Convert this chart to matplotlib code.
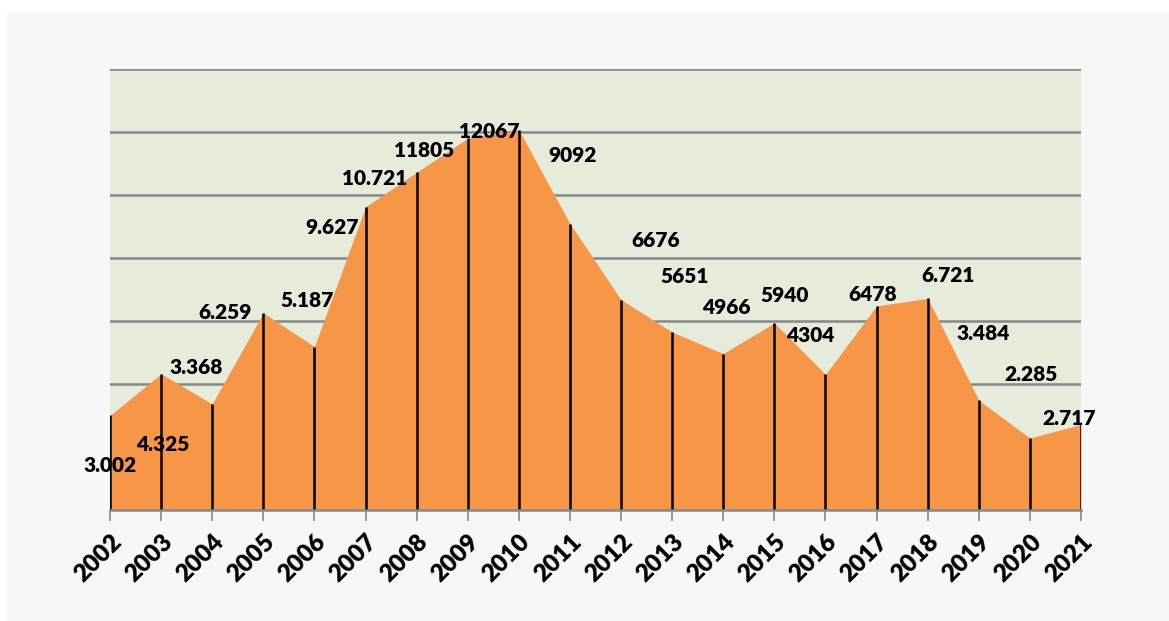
import numpy as np
import matplotlib.pyplot as plt
from matplotlib.patches import Rectangle

years = ['2002', '2003', '2004', '2005', '2006', '2007', '2008', '2009', '2010', '2011',
         '2012', '2013', '2014', '2015', '2016', '2017', '2018', '2019', '2020', '2021']
values = [3002, 4325, 3368, 6259, 5187, 9627, 10721, 11805, 12067, 9092,
          6676, 5651, 4966, 5940, 4304, 6478, 6721, 3484, 2285, 2717]
labels = ['3.002', '4.325', '3.368', '6.259', '5.187', '9.627', '10.721', '11805', '12067', '9092',
          '6676', '5651', '4966', '5940', '4304', '6478', '6.721', '3.484', '2.285', '2.717']

# label offsets from each point, in pixels (x right, y up)
label_dx = [0, 2, -16, -38, -7, -33, -42, -44, -30, 3, 35, 12, 3, 10, -15, -4, 20, 4, 1, -12]
label_dy = [-50, -71, 36, 0, 46, -21, -6, -12, -2, 68, 59, 55, 46, 27, 39, 11, 23, 67, 64, 6]

plt.rcParams['font.family'] = ['Lato', 'DejaVu Sans']

fig = plt.figure(figsize=(11.69, 6.21), dpi=100)
fig.patch.set_facecolor('white')
fig.patches.append(Rectangle((7 / 1169, 0), 1, 1 - 12 / 621, transform=fig.transFigure,
                             facecolor='#f7f7f7', edgecolor='none', zorder=-10))

ax = fig.add_axes([110 / 1169, 1 - 510 / 621, 971 / 1169, 441 / 621])
ax.set_facecolor('#e5ecdb')

ind = np.arange(len(years))
ax.fill_between(ind, values, 0, color='#f79646', linewidth=0, zorder=2)
ax.vlines(ind, 0, values, color='black', linewidth=1.8, zorder=3)

ax.set_xlim(0, len(years) - 1)
ax.set_ylim(0, 14000)
ax.set_yticks(np.arange(0, 14001, 2000))
ax.yaxis.grid(True, color='#878787', linewidth=1.8, zorder=1)
ax.set_axisbelow(True)
ax.tick_params(axis='y', left=False, labelleft=False)

for s in ['left', 'right', 'top']:
    ax.spines[s].set_visible(False)
ax.spines['bottom'].set_color('#878787')
ax.spines['bottom'].set_linewidth(1.8)
ax.spines['bottom'].set_zorder(4)

ax.set_xticks(ind)
ax.set_xticklabels(years, rotation=45, ha='right', rotation_mode='anchor',
                   fontsize=17.5, fontweight='heavy')
ax.tick_params(axis='x', length=8, width=1.2, color='#878787', pad=7)

for i in range(len(years)):
    ax.annotate(labels[i], (ind[i], values[i]), xytext=(label_dx[i], label_dy[i]),
                textcoords='offset pixels', ha='center', va='center',
                fontsize=15, fontweight='heavy', color='black', zorder=5,
                annotation_clip=False)

fig.savefig('out.png', dpi=100)
